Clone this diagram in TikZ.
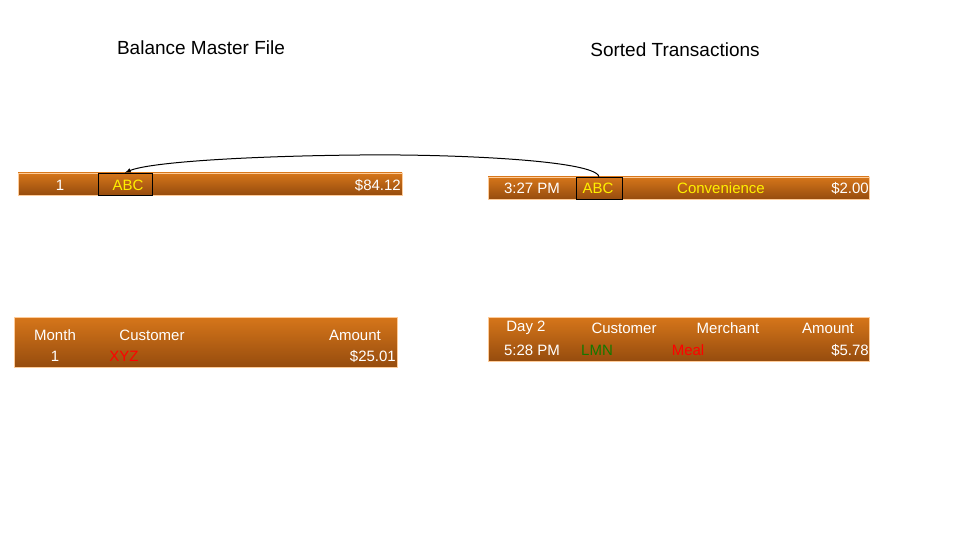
\documentclass[tikz,border=0pt]{standalone}
\usepackage{fontspec}
\setmainfont{Liberation Sans}
\begin{document}
\begin{tikzpicture}[x=1pt,y=-1pt,
  bar/.style={draw=orange!40!white,line width=0.8pt,top color={rgb,255:red,214;green,118;blue,26},bottom color={rgb,255:red,150;green,76;blue,14}},
  t/.style={font=\fontsize{15}{15}\selectfont,text=white,inner sep=0pt},
  ttl/.style={font=\fontsize{19}{19}\selectfont,inner sep=0pt},
  hl/.style={draw=black,line width=0.7pt,inner sep=0pt}]
\useasboundingbox (0,0) rectangle (960,540);
\definecolor{yel}{RGB}{255,240,0}
\definecolor{grn}{RGB}{20,120,0}
\node[ttl] (t1) at (201,48) {Balance Master File};
\node[ttl] (t2) at (675,50) {Sorted Transactions};
\path[bar] (18,173) rectangle (402,195);
\path[bar] (14,317) rectangle (397,367);
\path[bar] (488,177) rectangle (869,199);
\path[bar] (488,317) rectangle (869,361);
\node[hl,minimum width=54pt,minimum height=22pt] (b1) at (125,184) {};
\node[hl,minimum width=46pt,minimum height=22pt] (b2) at (599,188) {};
\node[t] at (60,185) {1};
\node[t,text=yel] at (128,185) {ABC};
\node[t,anchor=east] at (401,185) {\$84.12};
\node[t] at (55,335) {Month};
\node[t] at (55,356) {1};
\node[t] at (152,335) {Customer};
\node[t,text=red] at (124,356) {XYZ};
\node[t] at (355,335) {Amount};
\node[t,anchor=east] at (396,356) {\$25.01};
\node[t] at (532,188) {3:27 PM};
\node[t,text=yel] at (598,188) {ABC};
\node[t,text=yel] at (721,188) {Convenience};
\node[t,anchor=east] at (869,188) {\$2.00};
\node[t] at (526,328) {Day 2};
\node[t] at (624,328) {Customer};
\node[t] at (728,328) {Merchant};
\node[t] at (828,328) {Amount};
\node[t] at (532,350) {5:28 PM};
\node[t,text=grn] at (597,350) {LMN};
\node[t,text=red] at (688,350) {Meal};
\node[t,anchor=east] at (869,350) {\$5.78};
\draw[line width=1pt,-latex] (b2.north) .. controls (595,160) and (450,154) .. (360,155) .. controls (250,156) and (150,162) .. (b1.north);
\end{tikzpicture}
\end{document}
